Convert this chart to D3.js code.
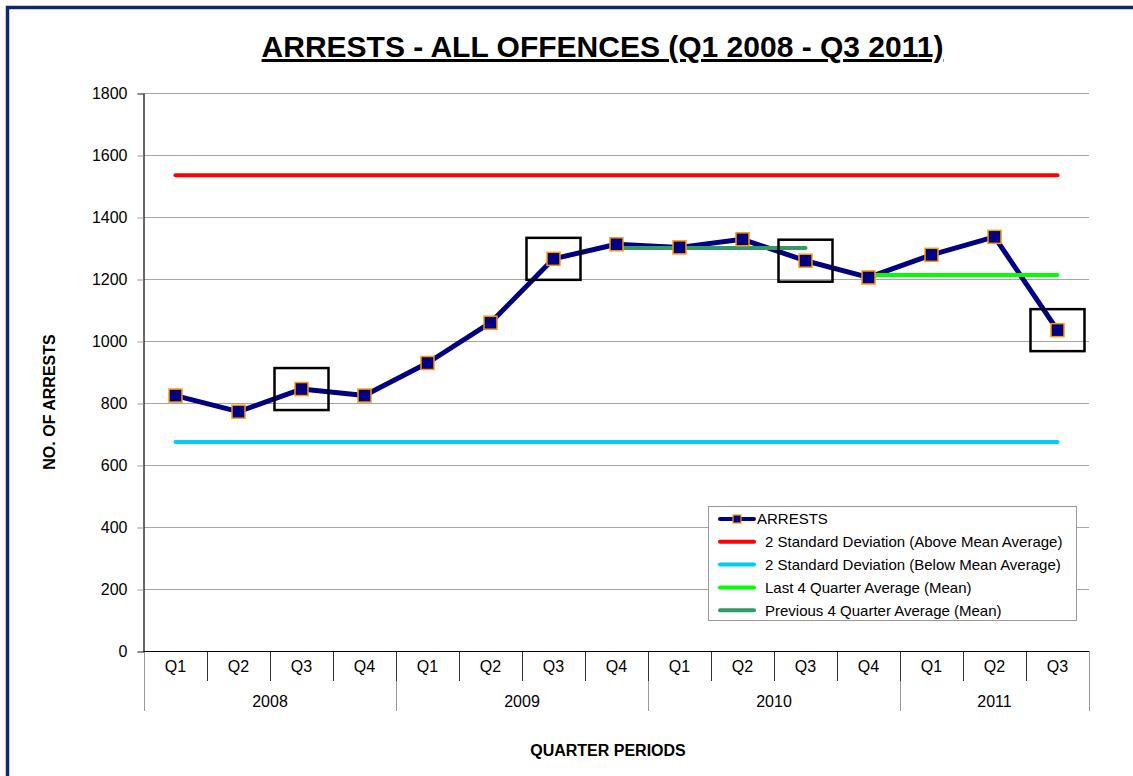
<!DOCTYPE html>
<html>
<head>
<meta charset="utf-8">
<script src="https://cdn.jsdelivr.net/npm/d3@7"></script>
<style>
  html, body { margin: 0; padding: 0; background: #fff; }
  svg { display: block; font-family: Arial, "Liberation Sans", sans-serif; }
</style>
</head>
<body>
<svg id="chart" width="1133" height="776"></svg>
<script>
// ---- data ----
const quarters = ["Q1","Q2","Q3","Q4","Q1","Q2","Q3","Q4","Q1","Q2","Q3","Q4","Q1","Q2","Q3"];
const years = ["2008","2009","2010","2011"];
const yearOfQuarter = ["2008","2008","2008","2008","2009","2009","2009","2009","2010","2010","2010","2010","2011","2011","2011"];
const arrests = [824, 772, 845, 824, 929, 1059, 1265, 1312, 1302, 1328, 1259, 1205, 1278, 1336, 1035];
const upperSD = 1535;   // 2 SD above mean
const lowerSD = 674;    // 2 SD below mean
const lastAvg = 1213;   // last 4 quarter average
const lastAvgRange = [11, 14];
const prevAvg = 1300;   // previous 4 quarter average
const prevAvgRange = [7, 10];
const highlighted = [2, 6, 10, 14];
const yTicks = [0, 200, 400, 600, 800, 1000, 1200, 1400, 1600, 1800];

const colors = {
  arrests: "#000080", marker: "#FF9900", upper: "#FF0000", lower: "#00CCFF",
  last: "#00FF00", prev: "#339966"
};

const svg = d3.select("#chart");
const W = 1133, H = 776;
const plot = { left: 144, right: 1089, top: 93, bottom: 651 };

// outer border
svg.append("rect").attr("x", 7.5).attr("y", 7.5).attr("width", 1200).attr("height", 900)
  .attr("fill", "none").attr("stroke", "#10296b").attr("stroke-width", 3.5);

const idx = d3.range(quarters.length);
const x = d3.scaleBand().domain(idx).range([plot.left, plot.right]).padding(0);
const xc = i => x(i) + x.bandwidth() / 2;
const y = d3.scaleLinear().domain([0, 1800]).range([plot.bottom, plot.top]);

// title
svg.append("text").attr("x", 602.5).attr("y", 57).attr("text-anchor", "middle")
  .attr("font-size", 30).attr("font-weight", "bold").attr("text-decoration", "underline")
  .attr("fill", "#000").text("ARRESTS - ALL OFFENCES (Q1 2008 - Q3 2011)");

// gridlines
svg.append("g").selectAll("line").data(yTicks.filter(d => d > 0)).join("line")
  .attr("x1", plot.left).attr("x2", plot.right)
  .attr("y1", d => y(d) + 0.5).attr("y2", d => y(d) + 0.5)
  .attr("stroke", "#a6a6a6").attr("stroke-width", 1);

// y axis
const yAxis = d3.axisLeft(y).tickValues(yTicks).tickSize(6).tickPadding(10).tickFormat(d3.format("d"));
const gy = svg.append("g").attr("transform", `translate(${plot.left - 0.5},0.5)`).call(yAxis);
gy.select(".domain").attr("stroke", "#000").attr("stroke-width", 1.2);
gy.selectAll(".tick line").attr("stroke", "#999");
gy.selectAll(".tick text").attr("font-size", 16).attr("font-family", "Arial, 'Liberation Sans', sans-serif").attr("fill", "#000");

// x axis (category, multi-level)
const gx = svg.append("g");
// boundaries between quarters
const bounds = d3.range(quarters.length + 1).map(i => i < quarters.length ? x(i) : x(quarters.length - 1) + x.bandwidth());
gx.selectAll("line.q").data(bounds).join("line").attr("class", "q")
  .attr("x1", d => Math.round(d) + 0.5).attr("x2", d => Math.round(d) + 0.5)
  .attr("y1", plot.bottom).attr("y2", plot.bottom + 30)
  .attr("stroke", (d, i) => (i === 0 || i === bounds.length - 1) ? "#999" : "#333").attr("stroke-width", 1);
// year boundaries
const yearBounds = [0, 4, 8, 12, 15].map(i => bounds[i]);
gx.selectAll("line.yr").data(yearBounds).join("line").attr("class", "yr")
  .attr("x1", d => Math.round(d) + 0.5).attr("x2", d => Math.round(d) + 0.5)
  .attr("y1", (d, i) => (i === 0 || i === yearBounds.length - 1) ? plot.bottom : plot.bottom + 30)
  .attr("y2", plot.bottom + 60)
  .attr("stroke", "#999").attr("stroke-width", 1);
gx.append("line").attr("x1", plot.left - 0.5).attr("x2", plot.right).attr("y1", plot.bottom + 0.5).attr("y2", plot.bottom + 0.5)
  .attr("stroke", "#000").attr("stroke-width", 1.2);
gx.selectAll("text.q").data(idx).join("text").attr("class", "q")
  .attr("x", i => xc(i)).attr("y", plot.bottom + 21).attr("text-anchor", "middle")
  .attr("font-size", 16).attr("fill", "#000").text(i => quarters[i]);
gx.selectAll("text.yr").data(years).join("text").attr("class", "yr")
  .attr("x", (d, i) => (yearBounds[i] + yearBounds[i + 1]) / 2).attr("y", plot.bottom + 55.5)
  .attr("text-anchor", "middle").attr("font-size", 16).attr("fill", "#000").text(d => d);

// axis titles
svg.append("text").attr("transform", "translate(55,402) rotate(-90)").attr("text-anchor", "middle")
  .attr("font-size", 16).attr("font-weight", "bold").attr("fill", "#000").text("NO. OF ARRESTS");
svg.append("text").attr("x", 608).attr("y", 756).attr("text-anchor", "middle")
  .attr("font-size", 16).attr("font-weight", "bold").attr("fill", "#000").text("QUARTER PERIODS");

// reference lines
function hline(val, i0, i1, color) {
  svg.append("line").attr("x1", xc(i0)).attr("x2", xc(i1)).attr("y1", y(val)).attr("y2", y(val))
    .attr("stroke", color).attr("stroke-width", 4).attr("stroke-linecap", "round");
}
hline(upperSD, 0, quarters.length - 1, colors.upper);
hline(lowerSD, 0, quarters.length - 1, colors.lower);

// arrests line
const line = d3.line().x((d, i) => xc(i)).y(d => y(d));
svg.append("path").datum(arrests).attr("d", line).attr("fill", "none")
  .attr("stroke", colors.arrests).attr("stroke-width", 5).attr("stroke-linejoin", "round");

hline(prevAvg, prevAvgRange[0], prevAvgRange[1], colors.prev);
hline(lastAvg, lastAvgRange[0], lastAvgRange[1], colors.last);

// markers
const ms = 13;
svg.append("g").selectAll("rect").data(arrests).join("rect")
  .attr("x", (d, i) => xc(i) - ms / 2).attr("y", d => y(d) - ms / 2)
  .attr("width", ms).attr("height", ms)
  .attr("fill", colors.arrests).attr("stroke", colors.marker).attr("stroke-width", 1.5);

// highlight boxes
const bw = 54, bh = 42;
svg.append("g").selectAll("rect").data(highlighted).join("rect")
  .attr("x", i => xc(i) - bw / 2).attr("y", i => y(arrests[i]) - bh / 2)
  .attr("width", bw).attr("height", bh)
  .attr("fill", "none").attr("stroke", "#000").attr("stroke-width", 2.5);

// legend
const lg = svg.append("g");
lg.append("rect").attr("x", 708.5).attr("y", 506.5).attr("width", 368).attr("height", 114)
  .attr("fill", "#fff").attr("stroke", "#999").attr("stroke-width", 1);
const legendItems = [
  { label: "ARRESTS", color: colors.arrests, marker: true },
  { label: "2 Standard Deviation (Above Mean Average)", color: colors.upper },
  { label: "2 Standard Deviation (Below Mean Average)", color: colors.lower },
  { label: "Last 4 Quarter Average (Mean)", color: colors.last },
  { label: "Previous 4 Quarter Average (Mean)", color: colors.prev }
];
legendItems.forEach((it, k) => {
  const cy = 519 + k * 22.8;
  lg.append("line").attr("x1", 720).attr("x2", 754).attr("y1", cy).attr("y2", cy)
    .attr("stroke", it.color).attr("stroke-width", 4).attr("stroke-linecap", "round");
  if (it.marker) {
    lg.append("rect").attr("x", 733).attr("y", cy - 4).attr("width", 8).attr("height", 8)
      .attr("fill", colors.arrests).attr("stroke", colors.marker).attr("stroke-width", 1.2);
  }
  lg.append("text").attr("x", it.marker ? 757 : 765).attr("y", cy).attr("dy", "0.36em")
    .attr("font-size", 15).attr("fill", "#000").text(it.label);
});
</script>
</body>
</html>
